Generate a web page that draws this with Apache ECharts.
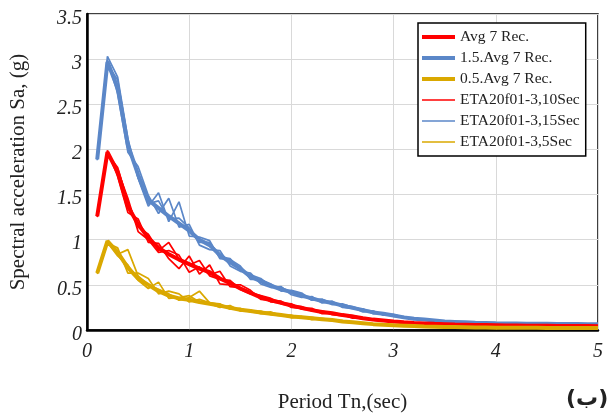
<!DOCTYPE html>
<html>
<head>
<meta charset="utf-8">
<script src="https://cdn.jsdelivr.net/npm/echarts@6/dist/echarts.min.js"></script>
<style>html,body{margin:0;padding:0;background:#fff;}#c{width:607px;height:418px;}</style>
</head>
<body>
<div id="c"></div>
<script>
var periods = [0.1,0.2,0.3,0.4,0.5,0.6,0.7,0.8,0.9,1.0,1.1,1.2,1.3,1.4,1.5,1.6,1.7,1.8,1.9,2.0,2.1,2.2,2.3,2.4,2.5,2.6,2.7,2.8,2.9,3.0,3.1,3.2,3.3,3.4,3.5,3.6,3.7,3.8,3.9,4.0,4.1,4.2,4.3,4.4,4.5,4.6,4.7,4.8,4.9,5.0];

var avgRec = [1.26,1.97,1.75,1.37,1.17,1.02,0.91,0.84,0.78,0.73,0.68,0.64,0.57,0.52,0.46,0.41,0.36,0.33,0.30,0.27,0.245,0.22,0.20,0.185,0.165,0.15,0.13,0.115,0.105,0.095,0.086,0.078,0.073,0.068,0.064,0.060,0.058,0.056,0.054,0.052,0.050,0.049,0.048,0.047,0.046,0.045,0.044,0.043,0.043,0.042];
var avg15 = [1.89,2.97,2.68,2.05,1.72,1.44,1.35,1.26,1.18,1.10,1.00,0.94,0.83,0.75,0.68,0.59,0.54,0.49,0.45,0.42,0.38,0.35,0.32,0.30,0.27,0.245,0.22,0.195,0.18,0.16,0.14,0.125,0.115,0.105,0.095,0.09,0.085,0.08,0.078,0.075,0.073,0.072,0.07,0.069,0.068,0.067,0.066,0.066,0.065,0.065];
var avg05 = [0.63,0.985,0.86,0.69,0.57,0.50,0.43,0.38,0.35,0.335,0.31,0.29,0.27,0.245,0.225,0.21,0.195,0.18,0.165,0.15,0.14,0.13,0.12,0.11,0.095,0.085,0.075,0.065,0.058,0.052,0.048,0.044,0.04,0.037,0.034,0.032,0.03,0.028,0.027,0.026,0.025,0.025,0.024,0.024,0.023,0.023,0.022,0.022,0.021,0.021];

var eta10a = [1.25,1.95,1.80,1.42,1.14,1.06,0.88,0.97,0.79,0.72,0.77,0.60,0.56,0.55,0.45,0.40,0.38,0.35,0.29,0.27,0.26,0.21,0.21,0.18,0.17,0.16,0.13,0.11,0.10,0.09,0.085,0.078,0.072,0.068,0.063,0.060,0.058,0.055,0.054,0.052,0.050,0.049,0.048,0.047,0.046,0.045,0.044,0.043,0.042,0.042];
var eta10b = [1.27,1.99,1.70,1.30,1.23,0.97,0.96,0.79,0.68,0.82,0.62,0.72,0.51,0.50,0.50,0.44,0.34,0.33,0.32,0.25,0.24,0.24,0.18,0.19,0.17,0.13,0.135,0.12,0.10,0.097,0.086,0.079,0.074,0.067,0.065,0.061,0.058,0.056,0.054,0.052,0.051,0.049,0.048,0.047,0.046,0.045,0.044,0.044,0.043,0.042];
var eta10c = [1.26,1.96,1.77,1.46,1.09,1.00,0.86,0.88,0.83,0.64,0.70,0.61,0.65,0.48,0.47,0.42,0.38,0.31,0.30,0.29,0.23,0.22,0.21,0.17,0.16,0.15,0.12,0.12,0.11,0.093,0.084,0.077,0.073,0.069,0.064,0.060,0.057,0.056,0.053,0.052,0.050,0.049,0.048,0.047,0.046,0.045,0.044,0.043,0.043,0.042];

var eta15a = [1.88,3.03,2.80,2.12,1.68,1.37,1.52,1.20,1.42,1.04,1.03,0.99,0.79,0.78,0.71,0.56,0.56,0.51,0.43,0.44,0.41,0.33,0.34,0.28,0.29,0.25,0.20,0.21,0.165,0.17,0.14,0.135,0.11,0.108,0.093,0.09,0.084,0.08,0.077,0.075,0.073,0.071,0.07,0.069,0.068,0.067,0.066,0.065,0.065,0.064];
var eta15b = [1.90,2.99,2.62,1.97,1.81,1.49,1.29,1.46,1.14,1.17,0.94,0.89,0.88,0.71,0.65,0.63,0.51,0.47,0.48,0.39,0.36,0.37,0.30,0.32,0.25,0.24,0.235,0.18,0.19,0.15,0.148,0.118,0.122,0.10,0.098,0.09,0.087,0.081,0.078,0.076,0.073,0.072,0.071,0.069,0.068,0.067,0.067,0.066,0.065,0.065];
var eta15c = [1.89,2.94,2.77,2.09,1.69,1.40,1.43,1.23,1.24,1.13,0.97,0.97,0.81,0.79,0.66,0.61,0.57,0.48,0.47,0.42,0.40,0.33,0.34,0.30,0.28,0.26,0.22,0.21,0.17,0.17,0.135,0.13,0.108,0.112,0.092,0.092,0.085,0.08,0.078,0.075,0.074,0.072,0.07,0.069,0.068,0.067,0.066,0.066,0.065,0.064];

var eta5a = [0.63,0.98,0.84,0.89,0.60,0.50,0.45,0.40,0.33,0.36,0.43,0.30,0.27,0.25,0.22,0.21,0.21,0.17,0.16,0.15,0.14,0.13,0.115,0.11,0.09,0.085,0.07,0.065,0.056,0.052,0.047,0.044,0.04,0.037,0.034,0.032,0.03,0.028,0.027,0.026,0.025,0.025,0.024,0.024,0.023,0.023,0.022,0.022,0.021,0.021];
var eta5b = [0.62,0.96,0.91,0.63,0.63,0.57,0.40,0.43,0.40,0.31,0.34,0.30,0.29,0.23,0.24,0.20,0.19,0.20,0.16,0.165,0.13,0.14,0.12,0.10,0.105,0.08,0.08,0.062,0.06,0.05,0.049,0.043,0.041,0.036,0.035,0.031,0.03,0.029,0.027,0.026,0.025,0.025,0.024,0.024,0.023,0.023,0.022,0.022,0.021,0.021];
var eta5c = [0.63,0.97,0.82,0.72,0.55,0.46,0.53,0.35,0.36,0.38,0.31,0.29,0.25,0.27,0.21,0.22,0.18,0.18,0.17,0.135,0.15,0.115,0.13,0.11,0.09,0.09,0.072,0.068,0.057,0.054,0.047,0.045,0.039,0.038,0.033,0.033,0.03,0.028,0.027,0.026,0.025,0.025,0.024,0.024,0.023,0.023,0.022,0.022,0.021,0.021];

var xTicks = [0,1,2,3,4,5];
var yTicks = [0,0.5,1,1.5,2,2.5,3,3.5];

var names = ['Avg 7 Rec.','1.5.Avg 7 Rec.','0.5.Avg 7 Rec.','ETA20f01-3,10Sec','ETA20f01-3,15Sec','ETA20f01-3,5Sec'];
var RED = '#FF0000', BLUE = '#5B87C8', GOLD = '#DAA800';

function pairs(vals){ return periods.map(function(p,i){ return [p, vals[i]]; }); }
function line(name, vals, color, width){
  return { name:name, type:'line', data:pairs(vals), symbol:'none', showSymbol:false,
    lineStyle:{color:color, width:width}, itemStyle:{color:color}, animation:false, z:2 };
}

var series = [
  line(names[3], eta10a, RED, 1.7), line(names[3], eta10b, RED, 1.7), line(names[3], eta10c, RED, 1.7),
  line(names[4], eta15a, BLUE, 1.7), line(names[4], eta15b, BLUE, 1.7), line(names[4], eta15c, BLUE, 1.7),
  line(names[5], eta5a, GOLD, 1.7), line(names[5], eta5b, GOLD, 1.7), line(names[5], eta5c, GOLD, 1.7),
  line(names[1], avg15, BLUE, 4),
  line(names[0], avgRec, RED, 4),
  line(names[2], avg05, GOLD, 4)
];

var thickIcon = 'path://M0,0M0,5L33,5L33,9L0,9ZM33,14';
var thinIcon = 'path://M0,0M0,6.2L33,6.2L33,7.8L0,7.8ZM33,14';
var legendData = names.map(function(n, i){ return {name:n, icon: i < 3 ? thickIcon : thinIcon}; });

var serif = 'Liberation Serif, Times New Roman, serif';
var chart = echarts.init(document.getElementById('c'), null, {renderer:'canvas'});
chart.setOption({
  animation:false,
  backgroundColor:'#fff',
  grid:{left:87, right:9, top:14, bottom:84, show:true, borderColor:'#000', borderWidth:1.5, backgroundColor:'transparent'},
  legend:{
    data:legendData, orient:'vertical', left:418, top:23, padding:[6,6,6,4], itemGap:5,
    itemWidth:33, itemHeight:14, backgroundColor:'#fff', borderColor:'#000', borderWidth:1.5,
    textStyle:{fontFamily:serif, fontSize:15.5, color:'#222'}
  },
  xAxis:{
    type:'value', min:0, max:5, interval:1,
    name:'Period Tn,(sec)', nameLocation:'middle', nameGap:62,
    nameTextStyle:{fontFamily:serif, fontSize:21, color:'#222'},
    axisLine:{show:true, lineStyle:{color:'#000', width:2.5}},
    axisTick:{show:false},
    axisLabel:{fontFamily:serif, fontStyle:'italic', fontSize:20, color:'#222', margin:12,
      formatter:function(v){ return xTicks.indexOf(v) >= 0 ? String(v) : ''; }},
    splitLine:{show:true, lineStyle:{color:'#D9D9D9', width:1}}
  },
  yAxis:{
    type:'value', min:0, max:3.5, interval:0.5,
    name:'Spectral acceleration Sa, (g)', nameLocation:'middle', nameGap:58, nameRotate:90,
    nameTextStyle:{fontFamily:serif, fontSize:21, color:'#222'},
    axisLine:{show:true, lineStyle:{color:'#000', width:2.5}},
    axisTick:{show:false},
    axisLabel:{margin:5,
      formatter:function(v){ return yTicks.indexOf(v) >= 0 ? '{a|' + v + '}' : ''; },
      rich:{a:{fontFamily:serif, fontStyle:'italic', fontSize:20, color:'#222', padding:[9,0,0,0]}}},
    splitLine:{show:true, lineStyle:{color:'#D9D9D9', width:1}}
  },
  graphic:[{
    type:'text', left:566, top:388,
    style:{text:'(ب)', font:'bold 22px "DejaVu Sans", sans-serif', fill:'#222'}
  }],
  series:series
});
</script>
</body>
</html>
